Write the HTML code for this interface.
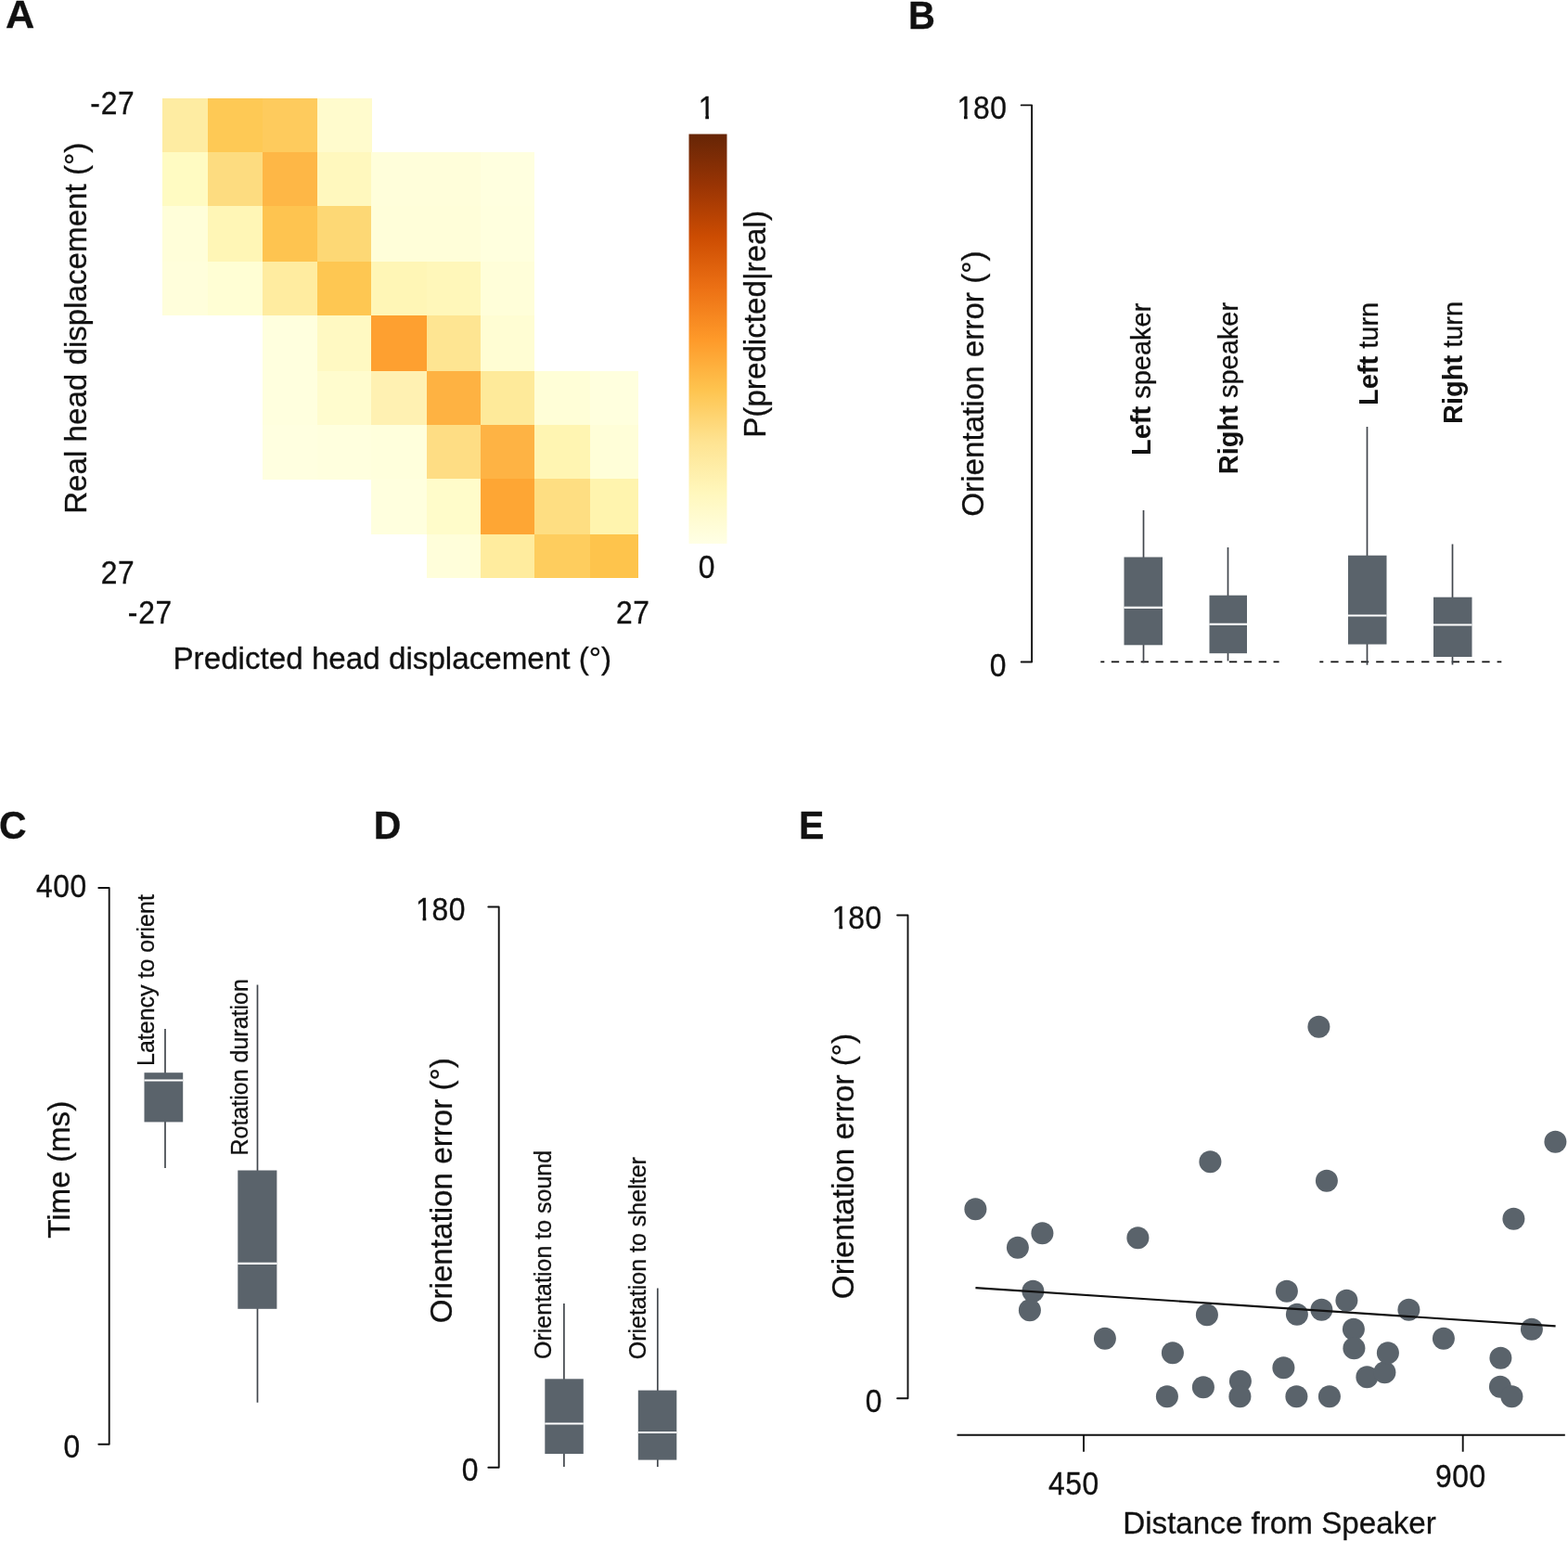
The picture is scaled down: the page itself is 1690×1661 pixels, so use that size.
<!DOCTYPE html>
<html lang="en">
<head>
<meta charset="utf-8">
<title>Figure</title>
<style>
html,body{margin:0;padding:0;background:#fff;}
body{width:1690px;height:1661px;overflow:hidden;}
svg{display:block;font-family:"Liberation Sans",Arial,Helvetica,sans-serif;filter:blur(0.45px);}
text{fill:#111;stroke:#111;stroke-width:0.3px;}
</style>
</head>
<body>
<svg width="1690" height="1661" viewBox="0 0 1690 1661">
<defs>
<linearGradient id="cb" x1="0" y1="1" x2="0" y2="0">
<stop offset="0" stop-color="#ffffe5"/>
<stop offset="0.125" stop-color="#fff7bc"/>
<stop offset="0.25" stop-color="#fee391"/>
<stop offset="0.375" stop-color="#fec44f"/>
<stop offset="0.5" stop-color="#fe9929"/>
<stop offset="0.625" stop-color="#ec7014"/>
<stop offset="0.75" stop-color="#cc4c02"/>
<stop offset="0.875" stop-color="#993404"/>
<stop offset="1" stop-color="#662506"/>
</linearGradient>
</defs>
<rect width="1690" height="1661" fill="#fff"/>
<g shape-rendering="crispEdges">
<rect x="175.2" y="105.8" width="49.2" height="58.6" fill="#feeca2"/>
<rect x="224.1" y="105.8" width="59.3" height="58.6" fill="#fec955"/>
<rect x="283.1" y="105.8" width="59.3" height="58.6" fill="#fecb5d"/>
<rect x="342.1" y="105.8" width="58.5" height="58.6" fill="#fffbcd"/>
<rect x="175.2" y="164.1" width="49.2" height="58.2" fill="#fffbc2"/>
<rect x="224.1" y="164.1" width="59.3" height="58.2" fill="#fddc80"/>
<rect x="283.1" y="164.1" width="59.3" height="58.2" fill="#feb746"/>
<rect x="342.1" y="164.1" width="58.5" height="58.2" fill="#fff8be"/>
<rect x="400.3" y="164.1" width="60.1" height="58.2" fill="#fffeda"/>
<rect x="460.1" y="164.1" width="58.2" height="58.2" fill="#fffeda"/>
<rect x="518.0" y="164.1" width="58.4" height="58.2" fill="#ffffdf"/>
<rect x="175.2" y="222.0" width="49.2" height="60.5" fill="#fffed9"/>
<rect x="224.1" y="222.0" width="59.3" height="60.5" fill="#fff6b6"/>
<rect x="283.1" y="222.0" width="59.3" height="60.5" fill="#fec450"/>
<rect x="342.1" y="222.0" width="58.5" height="60.5" fill="#fdd875"/>
<rect x="400.3" y="222.0" width="60.1" height="60.5" fill="#fffed9"/>
<rect x="460.1" y="222.0" width="58.2" height="60.5" fill="#fffed9"/>
<rect x="518.0" y="222.0" width="58.4" height="60.5" fill="#ffffde"/>
<rect x="175.2" y="282.2" width="49.2" height="57.8" fill="#fffedb"/>
<rect x="224.1" y="282.2" width="59.3" height="57.8" fill="#fffed4"/>
<rect x="283.1" y="282.2" width="59.3" height="57.8" fill="#ffeca0"/>
<rect x="342.1" y="282.2" width="58.5" height="57.8" fill="#fec752"/>
<rect x="400.3" y="282.2" width="60.1" height="57.8" fill="#fff6b6"/>
<rect x="460.1" y="282.2" width="58.2" height="57.8" fill="#fff7ba"/>
<rect x="518.0" y="282.2" width="58.4" height="57.8" fill="#fffed9"/>
<rect x="283.1" y="339.7" width="59.3" height="60.4" fill="#ffffde"/>
<rect x="342.1" y="339.7" width="58.5" height="60.4" fill="#fff9c2"/>
<rect x="400.3" y="339.7" width="60.1" height="60.4" fill="#fea030"/>
<rect x="460.1" y="339.7" width="58.2" height="60.4" fill="#fee592"/>
<rect x="518.0" y="339.7" width="58.4" height="60.4" fill="#fffdd3"/>
<rect x="283.1" y="399.8" width="59.3" height="58.4" fill="#ffffde"/>
<rect x="342.1" y="399.8" width="58.5" height="58.4" fill="#fffcce"/>
<rect x="400.3" y="399.8" width="60.1" height="58.4" fill="#fff1b2"/>
<rect x="460.1" y="399.8" width="58.2" height="58.4" fill="#feb242"/>
<rect x="518.0" y="399.8" width="58.4" height="58.4" fill="#feea9a"/>
<rect x="576.1" y="399.8" width="60.4" height="58.4" fill="#fffed7"/>
<rect x="636.2" y="399.8" width="52.0" height="58.4" fill="#ffffde"/>
<rect x="283.1" y="457.9" width="59.3" height="58.6" fill="#ffffe0"/>
<rect x="342.1" y="457.9" width="58.5" height="58.6" fill="#ffffde"/>
<rect x="400.3" y="457.9" width="60.1" height="58.6" fill="#ffffdc"/>
<rect x="460.1" y="457.9" width="58.2" height="58.6" fill="#fedd84"/>
<rect x="518.0" y="457.9" width="58.4" height="58.6" fill="#feb344"/>
<rect x="576.1" y="457.9" width="60.4" height="58.6" fill="#fff5b2"/>
<rect x="636.2" y="457.9" width="52.0" height="58.6" fill="#fffed8"/>
<rect x="400.3" y="516.2" width="60.1" height="60.2" fill="#ffffde"/>
<rect x="460.1" y="516.2" width="58.2" height="60.2" fill="#fffcca"/>
<rect x="518.0" y="516.2" width="58.4" height="60.2" fill="#fea634"/>
<rect x="576.1" y="516.2" width="60.4" height="60.2" fill="#fede82"/>
<rect x="636.2" y="516.2" width="52.0" height="60.2" fill="#fff4ae"/>
<rect x="460.1" y="576.1" width="58.2" height="47.2" fill="#fffeda"/>
<rect x="518.0" y="576.1" width="58.4" height="47.2" fill="#ffec9e"/>
<rect x="576.1" y="576.1" width="60.4" height="47.2" fill="#fecd5e"/>
<rect x="636.2" y="576.1" width="52.0" height="47.2" fill="#fec44c"/>
</g>
<text transform="translate(5.9 30.4) scale(1 0.99)" font-size="43.3" text-anchor="start" font-weight="bold" stroke-width="0">A</text>
<text transform="translate(97.59 123.10) scale(1 1.1186)" x="-0.44 11.20 29.44" font-size="31.82" stroke-width="0.45">-27</text>
<text transform="translate(108.41 629.20) scale(1 1.1186)" x="0.27 18.52" font-size="31.82" stroke-width="0.45">27</text>
<text transform="translate(138.10 672.40) scale(1 1.1186)" x="-0.44 11.20 29.44" font-size="31.82" stroke-width="0.45">-27</text>
<text transform="translate(663.76 672.30) scale(1 1.1186)" x="0.27 18.52" font-size="31.82" stroke-width="0.45">27</text>
<text x="422.8" y="721.3" font-size="33.2" text-anchor="middle">Predicted head displacement (°)</text>
<text x="92.9" y="353.8" font-size="33.15" text-anchor="middle" transform="rotate(-90 92.9 353.8)">Real head displacement (°)</text>
<rect x="742.5" y="144.5" width="41" height="441.5" fill="url(#cb)"/>
<text transform="translate(751.68 127.50) scale(1 1.1186)" x="1.07" font-size="31.82" stroke-width="0.45">1</text>
<rect x="753.72" y="123.49" width="6.55" height="5.86" fill="#fff"/>
<rect x="764.00" y="123.49" width="6.30" height="5.86" fill="#fff"/>
<text transform="translate(752.38 623.40) scale(1 1.1186)" x="0.27" font-size="31.82" stroke-width="0.45">0</text>
<text x="825" y="349.4" font-size="33.2" text-anchor="middle" transform="rotate(-90 825 349.4)">P(predicted|real)</text>
<text transform="translate(979.0 30.5) scale(1 1.04)" font-size="40" text-anchor="start" font-weight="bold" stroke-width="0">B</text>
<path d="M1100.7 113.4H1112.1V713.5H1100.7" fill="none" stroke="#111" stroke-width="1.9" stroke-linejoin="round" stroke-linecap="round"/>
<text transform="translate(1030.37 128.20) scale(1 1.1186)" x="1.07 18.52 36.76" font-size="31.82" stroke-width="0.45">180</text>
<rect x="1032.41" y="124.19" width="6.55" height="5.86" fill="#fff"/>
<rect x="1042.70" y="124.19" width="6.30" height="5.86" fill="#fff"/>
<text transform="translate(1066.56 728.50) scale(1 1.1186)" x="0.27" font-size="31.82" stroke-width="0.45">0</text>
<text x="1060.4" y="413.6" font-size="33.2" text-anchor="middle" transform="rotate(-90 1060.4 413.6)">Orientation error (°)</text>
<line x1="1186.3" y1="713.4" x2="1378.6" y2="713.4" stroke="#111" stroke-width="1.9" stroke-dasharray="8.3 7.58" stroke-dashoffset="4.3"/>
<line x1="1422.3" y1="713.4" x2="1618.3" y2="713.4" stroke="#111" stroke-width="1.9" stroke-dasharray="8.3 8.0" stroke-dashoffset="4.3"/>
<line x1="1232.5" y1="550" x2="1232.5" y2="714.4" stroke="#42474d" stroke-width="1.7"/>
<rect x="1211.5" y="600.5" width="41.5" height="94.8" fill="#5a636b"/>
<line x1="1211.5" y1="654.8" x2="1253" y2="654.8" stroke="#fff" stroke-width="2.2"/>
<line x1="1323.5" y1="590" x2="1323.5" y2="712.4" stroke="#42474d" stroke-width="1.7"/>
<rect x="1303.5" y="641.7" width="40.5" height="62.5" fill="#5a636b"/>
<line x1="1303.5" y1="672.9" x2="1344" y2="672.9" stroke="#fff" stroke-width="2.2"/>
<line x1="1473.5" y1="460" x2="1473.5" y2="716.7" stroke="#42474d" stroke-width="1.7"/>
<rect x="1453" y="598.7" width="41.5" height="95.8" fill="#5a636b"/>
<line x1="1453" y1="663.5" x2="1494.5" y2="663.5" stroke="#fff" stroke-width="2.2"/>
<line x1="1565.5" y1="586.5" x2="1565.5" y2="716.5" stroke="#42474d" stroke-width="1.7"/>
<rect x="1545" y="643.7" width="41.5" height="64.3" fill="#5a636b"/>
<line x1="1545" y1="673.5" x2="1586.5" y2="673.5" stroke="#fff" stroke-width="2.2"/>
<text x="1239.5" y="491" font-size="29" transform="rotate(-90 1239.5 491)"><tspan font-weight="bold" stroke-width="0">Left</tspan> speaker</text>
<text x="1333.8" y="511.2" font-size="29" transform="rotate(-90 1333.8 511.2)"><tspan font-weight="bold" stroke-width="0">Right</tspan> speaker</text>
<text x="1485" y="437" font-size="29" transform="rotate(-90 1485 437)"><tspan font-weight="bold" stroke-width="0">Left</tspan> turn</text>
<text x="1576" y="457" font-size="29" transform="rotate(-90 1576 457)"><tspan font-weight="bold" stroke-width="0">Right</tspan> turn</text>
<text transform="translate(-1 904) scale(1 1.04)" font-size="41" text-anchor="start" font-weight="bold" stroke-width="0">C</text>
<path d="M106.3 957H117.7V1556.8H106.3" fill="none" stroke="#111" stroke-width="1.9" stroke-linejoin="round" stroke-linecap="round"/>
<text transform="translate(38.77 967.20) scale(1 1.1186)" x="0.27 18.52 36.76" font-size="31.82" stroke-width="0.45">400</text>
<text transform="translate(68.26 1571.40) scale(1 1.1186)" x="0.27" font-size="31.82" stroke-width="0.45">0</text>
<text x="74.8" y="1260.8" font-size="33.2" text-anchor="middle" transform="rotate(-90 74.8 1260.8)">Time (ms)</text>
<line x1="178" y1="1109" x2="178" y2="1259" stroke="#42474d" stroke-width="1.7"/>
<rect x="155.5" y="1156.2" width="41.7" height="53.2" fill="#5a636b"/>
<line x1="155.5" y1="1164.5" x2="197.2" y2="1164.5" stroke="#fff" stroke-width="2.2"/>
<line x1="277.5" y1="1061.6" x2="277.5" y2="1511.8" stroke="#42474d" stroke-width="1.7"/>
<rect x="256.3" y="1261.5" width="42.1" height="149.3" fill="#5a636b"/>
<line x1="256.3" y1="1361.8" x2="298.4" y2="1361.8" stroke="#fff" stroke-width="2.2"/>
<text x="166" y="1149" font-size="25" text-anchor="start" transform="rotate(-90 166 1149)">Latency to orient</text>
<text x="267" y="1245.5" font-size="25" text-anchor="start" transform="rotate(-90 267 1245.5)">Rotation duration</text>
<text transform="translate(402.8 904.3) scale(1 1.04)" font-size="41" text-anchor="start" font-weight="bold" stroke-width="0">D</text>
<path d="M526.3 977.5H537.7V1581.8H526.3" fill="none" stroke="#111" stroke-width="1.9" stroke-linejoin="round" stroke-linecap="round"/>
<text transform="translate(446.97 992.00) scale(1 1.1186)" x="1.07 18.52 36.76" font-size="31.82" stroke-width="0.45">180</text>
<rect x="449.01" y="987.99" width="6.55" height="5.86" fill="#fff"/>
<rect x="459.30" y="987.99" width="6.30" height="5.86" fill="#fff"/>
<text transform="translate(497.56 1596.40) scale(1 1.1186)" x="0.27" font-size="31.82" stroke-width="0.45">0</text>
<text x="487.1" y="1283.2" font-size="33.2" text-anchor="middle" transform="rotate(-90 487.1 1283.2)">Orientation error (°)</text>
<line x1="607.9" y1="1404.9" x2="607.9" y2="1581.1" stroke="#42474d" stroke-width="1.7"/>
<rect x="587.3" y="1486.3" width="41.5" height="80.8" fill="#5a636b"/>
<line x1="587.3" y1="1534.5" x2="628.8" y2="1534.5" stroke="#fff" stroke-width="2.2"/>
<line x1="708.8" y1="1388.5" x2="708.8" y2="1581.1" stroke="#42474d" stroke-width="1.7"/>
<rect x="687.8" y="1498.6" width="41.5" height="75.0" fill="#5a636b"/>
<line x1="687.8" y1="1544" x2="729.3" y2="1544" stroke="#fff" stroke-width="2.2"/>
<text x="593.5" y="1465" font-size="25" text-anchor="start" transform="rotate(-90 593.5 1465)">Orientation to sound</text>
<text x="696.5" y="1465.3" font-size="25" text-anchor="start" transform="rotate(-90 696.5 1465.3)">Orietation to shelter</text>
<text transform="translate(861 904.3) scale(1 1.04)" font-size="41" text-anchor="start" font-weight="bold" stroke-width="0">E</text>
<path d="M967.1 986.5H978.5V1507.2H967.1" fill="none" stroke="#111" stroke-width="1.9" stroke-linejoin="round" stroke-linecap="round"/>
<text transform="translate(895.77 1001.00) scale(1 1.1186)" x="1.07 18.52 36.76" font-size="31.82" stroke-width="0.45">180</text>
<rect x="897.81" y="996.99" width="6.55" height="5.86" fill="#fff"/>
<rect x="908.10" y="996.99" width="6.30" height="5.86" fill="#fff"/>
<text transform="translate(932.36 1522.30) scale(1 1.1186)" x="0.27" font-size="31.82" stroke-width="0.45">0</text>
<text x="919.6" y="1257" font-size="33.2" text-anchor="middle" transform="rotate(-90 919.6 1257)">Orientation error (°)</text>
<path d="M1031.5 1546.7H1686.8M1168 1546.7V1564.7M1576.7 1546.7V1564.7" fill="none" stroke="#111" stroke-width="1.9"/>
<text transform="translate(1129.63 1610.90) scale(1 1.1186)" x="0.27 18.52 36.76" font-size="31.82" stroke-width="0.45">450</text>
<text transform="translate(1546.63 1603.40) scale(1 1.1186)" x="0.27 18.52 36.76" font-size="31.82" stroke-width="0.45">900</text>
<text x="1379.0" y="1653.1" font-size="33.2" text-anchor="middle">Distance from Speaker</text>
<circle cx="1051.4" cy="1303.3" r="12" fill="#5a636b"/>
<circle cx="1096.9" cy="1344.8" r="12" fill="#5a636b"/>
<circle cx="1123.4" cy="1329.3" r="12" fill="#5a636b"/>
<circle cx="1113.4" cy="1391.8" r="12" fill="#5a636b"/>
<circle cx="1109.9" cy="1412.3" r="12" fill="#5a636b"/>
<circle cx="1190.9" cy="1442.8" r="12" fill="#5a636b"/>
<circle cx="1226.4" cy="1334.3" r="12" fill="#5a636b"/>
<circle cx="1263.9" cy="1458.3" r="12" fill="#5a636b"/>
<circle cx="1257.9" cy="1505.3" r="12" fill="#5a636b"/>
<circle cx="1296.9" cy="1495.3" r="12" fill="#5a636b"/>
<circle cx="1300.9" cy="1417.3" r="12" fill="#5a636b"/>
<circle cx="1304.4" cy="1252.3" r="12" fill="#5a636b"/>
<circle cx="1336.9" cy="1488.8" r="12" fill="#5a636b"/>
<circle cx="1336.4" cy="1505.3" r="12" fill="#5a636b"/>
<circle cx="1383.4" cy="1474.3" r="12" fill="#5a636b"/>
<circle cx="1386.9" cy="1391.8" r="12" fill="#5a636b"/>
<circle cx="1397.9" cy="1416.8" r="12" fill="#5a636b"/>
<circle cx="1397.4" cy="1505.3" r="12" fill="#5a636b"/>
<circle cx="1421.4" cy="1106.8" r="12" fill="#5a636b"/>
<circle cx="1424.4" cy="1411.8" r="12" fill="#5a636b"/>
<circle cx="1429.9" cy="1272.8" r="12" fill="#5a636b"/>
<circle cx="1432.9" cy="1505.3" r="12" fill="#5a636b"/>
<circle cx="1451.4" cy="1401.8" r="12" fill="#5a636b"/>
<circle cx="1458.9" cy="1432.8" r="12" fill="#5a636b"/>
<circle cx="1459.4" cy="1453.3" r="12" fill="#5a636b"/>
<circle cx="1473.4" cy="1484.3" r="12" fill="#5a636b"/>
<circle cx="1492.4" cy="1479.3" r="12" fill="#5a636b"/>
<circle cx="1495.9" cy="1458.3" r="12" fill="#5a636b"/>
<circle cx="1518.4" cy="1411.8" r="12" fill="#5a636b"/>
<circle cx="1555.9" cy="1442.8" r="12" fill="#5a636b"/>
<circle cx="1617.4" cy="1463.8" r="12" fill="#5a636b"/>
<circle cx="1616.9" cy="1494.8" r="12" fill="#5a636b"/>
<circle cx="1629.4" cy="1505.3" r="12" fill="#5a636b"/>
<circle cx="1631.4" cy="1313.8" r="12" fill="#5a636b"/>
<circle cx="1650.9" cy="1432.8" r="12" fill="#5a636b"/>
<circle cx="1676.4" cy="1230.8" r="12" fill="#5a636b"/>
<line x1="1051.4" y1="1388.1" x2="1676.6" y2="1429.4" stroke="#111" stroke-width="2.1"/>
</svg>
</body>
</html>
